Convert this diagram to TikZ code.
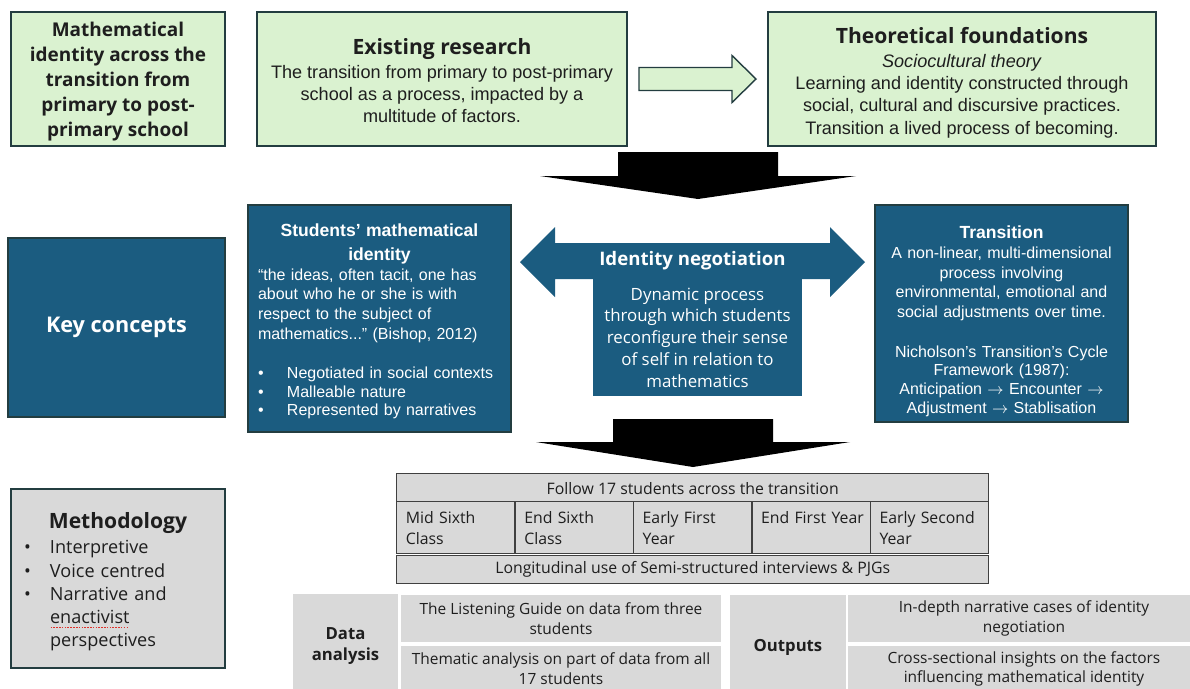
\documentclass[tikz,border=0pt]{standalone}
\usepackage{fontspec}
\setmainfont{Liberation Sans}
\newfontfamily\apt{Open Sans}
\usetikzlibrary{calc}

\definecolor{leaf}{HTML}{DAF2D0}
\definecolor{edge}{HTML}{233D40}
\definecolor{deep}{HTML}{1B5C80}
\definecolor{ash}{HTML}{D9D9D9}
\definecolor{ink}{HTML}{1E1E1E}
\definecolor{rule}{HTML}{404040}
\definecolor{spell}{HTML}{E0302A}

\newcommand\hd{\apt\bfseries\fontsize{12}{14.2}\selectfont}
\newcommand\itm[2][0.58cm]{\makebox[#1][l]{\textbullet}#2}
% dotted red mark under a word
\newcommand\squig[1]{\setbox0=\hbox{#1}\rlap{\color{spell}\hbox to \wd0{\leaders\hbox to 1.6pt{\hss\rule[-2.6pt]{0.9pt}{0.6pt}\hss}\hfill}}#1}

\begin{document}
\begin{tikzpicture}[
    font=\fontsize{10.3}{12.7}\selectfont,
    grn/.style={draw=edge, line width=0.8pt, fill=leaf, text=ink, align=center, inner sep=0pt},
    blu/.style={draw=edge, line width=0.8pt, fill=deep, text=white, inner sep=0pt},
    gry/.style={draw=edge, line width=0.8pt, fill=ash, text=ink, inner sep=0pt},
    cell/.style={draw=rule, line width=0.8pt, fill=ash, text=ink, inner sep=0pt,
                 font=\apt\fontsize{9}{11.9}\selectfont},
    pad/.style={fill=ash, text=ink, align=center, inner sep=0pt,
                font=\apt\fontsize{8.8}{11.3}\selectfont},
    down/.style={fill=black},
    hollow/.style={draw=edge, line width=0.8pt, fill=leaf, line join=miter}
  ]
  \useasboundingbox (0,0) rectangle (23.8,-13.76);
  \fill[white] (0,0) rectangle (23.8,-13.76);

  % Top row: topic, research and theory
  \node[grn, minimum width=4.28cm, minimum height=2.68cm, font=\apt\bfseries\fontsize{10.8}{14.2}\selectfont] (topic) at (2.36,-1.58) {
    \rule{0pt}{11pt}Mathematical\\ identity across the\\ transition from\\ primary to post-\\ primary school
  };
  \node[grn, minimum width=7.40cm, minimum height=2.68cm] (research) at (8.84,-1.58) {
    {\hd\rule{0pt}{11pt}Existing research}\\[1pt]
    The transition from primary to post-primary\\
    school as a process, impacted by a\\
    multitude of factors.
  };
  \node[grn, minimum width=7.76cm, minimum height=2.68cm] (theory) at (19.24,-1.58) {
    {\hd\rule{0pt}{13.5pt}Theoretical foundations}\\[0.5pt]
    \textit{Sociocultural theory}\\
    Learning and identity constructed through\\
    social, cultural and discursive practices.\\
    Transition a lived process of becoming.
  };

  % Block arrow between research and theory
  \coordinate (hol) at ($(research.east)!0.5!(theory.west)$);
  \draw[hollow] ([shift={(-1.17,0.23)}]hol) -- ++(1.86,0) -- ++(0,0.24) -- ++(0.48,-0.47)
    -- ++(-0.48,-0.47) -- ++(0,0.24) -- ++(-1.86,0) -- cycle;

  % Down arrow into the concepts row
  \fill[down] (12.36,-3.04) -- (15.56,-3.04) -- (15.56,-3.52) -- (17.12,-3.52)
    -- (13.96,-3.98) -- (10.80,-3.52) -- (12.36,-3.52) -- cycle;

  % Key concepts row
  \node[blu, minimum width=4.34cm, minimum height=3.58cm, font=\apt\bfseries\fontsize{12.3}{14}\selectfont] (keys) at (2.33,-6.55) {Key concepts};

  \node[blu, text width=4.86cm, align=left, inner xsep=0.2cm, minimum width=5.26cm, minimum height=4.54cm,
        font=\fontsize{9.1}{11.3}\selectfont] (ident) at (7.59,-6.37) {
    {\centering\bfseries\fontsize{10}{13.4}\selectfont\rule{0pt}{10.5pt}Students’ mathematical\\identity\par}
    “the ideas, often tacit, one has\\
    about who he or she is with\\
    respect to the subject of\\
    mathematics...”\ (Bishop, 2012)\par\vspace{12pt}
    {\fontsize{9.1}{10.4}\selectfont
    \itm{Negotiated in social contexts}\\
    \itm{Malleable nature}\\
    \itm{Represented by narratives}\par}
  };

  \node[fill=deep, text=white, align=center, inner sep=0pt, minimum width=4.18cm, minimum height=2.34cm,
        font=\apt\fontsize{9.6}{12.4}\selectfont] (negbody) at (13.95,-6.75) {
    Dynamic process\\ through which students\\ reconfigure their sense\\ of self in relation to\\ mathematics
  };
  \fill[deep] (10.40,-5.24) -- (11.10,-4.54) -- (11.10,-4.86) -- (16.60,-4.86) -- (16.60,-4.54)
    -- (17.30,-5.24) -- (16.60,-5.94) -- (16.60,-5.58) -- (11.10,-5.58) -- (11.10,-5.94) -- cycle;
  \node[text=white, font=\apt\bfseries\fontsize{10.6}{12}\selectfont] (neg) at (13.85,-5.22) {Identity negotiation};

  \node[blu, text width=4.70cm, align=center, inner xsep=0.18cm, minimum width=5.06cm, minimum height=4.34cm,
        font=\fontsize{9.1}{11.2}\selectfont] (trans) at (20.03,-6.27) {
    {\bfseries\fontsize{10}{12}\selectfont\rule{0pt}{16pt}Transition\par}
    A non-linear, multi-dimensional\\ process involving\\ environmental, emotional and\\
    social adjustments over time.\par\vspace{12pt}
    {\fontsize{9.1}{10.6}\selectfont
    Nicholson’s Transition’s Cycle\\ Framework (1987):\\
    Anticipation $\rightarrow$ Encounter $\rightarrow$\\ Adjustment $\rightarrow$ Stablisation\par}
  };

  % Down arrow into the study design
  \fill[down] (12.26,-8.38) -- (15.46,-8.38) -- (15.46,-8.84) -- (17.00,-8.84)
    -- (13.86,-9.34) -- (10.72,-8.84) -- (12.26,-8.84) -- cycle;

  % Methodology
  \node[gry, text width=3.76cm, align=left, inner xsep=0.26cm, minimum width=4.28cm, minimum height=3.58cm,
        font=\apt\fontsize{10.3}{13.2}\selectfont] (method) at (2.36,-11.57) {
    {\centering\bfseries\fontsize{12}{15}\selectfont\rule{0pt}{12.5pt}Methodology\par}\vspace{1.5pt}
    \itm[0.52cm]{Interpretive}\\
    \itm[0.52cm]{Voice centred}\\
    \itm[0.52cm]{Narrative and}\\
    \hspace*{0.52cm}\squig{enactivist}\\
    \hspace*{0.52cm}perspectives
  };

  % Data collection table
  \node[cell, anchor=north west, minimum width=11.84cm, minimum height=0.60cm] (follow) at (7.92,-9.46)
    {Follow 17 students across the transition};
  \foreach \lbl [count=\i from 0] in {{Mid Sixth\\Class}, {End Sixth\\Class}, {Early First\\Year},
                                     {\mbox{End First Year}\\~}, {Early Second\\Year}}
    \node[cell, anchor=north west, minimum width=2.368cm, minimum height=1.04cm, text width=2.0cm,
          inner xsep=0.18cm, align=left] (yr\i) at ({7.92+2.368*\i},-10.02) {\lbl};
  \node[cell, anchor=north west, minimum width=11.84cm, minimum height=0.56cm] (interviews) at (7.92,-11.10)
    {Longitudinal use of Semi-structured interviews \& PJGs};

  % Data analysis and outputs
  \node[pad, minimum width=2.10cm, minimum height=2.10cm, font=\apt\bfseries\fontsize{9.5}{11.9}\selectfont]
    (analysis) at (6.91,-12.92) {Data\\ analysis};
  \node[pad, minimum width=6.40cm, minimum height=0.94cm] (lg) at (11.22,-12.37)
    {The Listening Guide on data from three\\ students};
  \node[pad, minimum width=6.40cm, minimum height=0.92cm] (them) at (11.22,-13.38)
    {Thematic analysis on part of data from all\\ 17 students};

  \node[pad, minimum width=2.32cm, minimum height=2.10cm, font=\apt\bfseries\fontsize{9.5}{11.9}\selectfont]
    (outputs) at (15.76,-12.95) {Outputs};
  \node[pad, minimum width=7.04cm, minimum height=0.94cm] (cases) at (20.48,-12.37)
    {In-depth narrative cases of identity\\ negotiation};
  \node[pad, minimum width=7.04cm, minimum height=0.92cm] (cross) at (20.48,-13.38)
    {Cross-sectional insights on the factors\\ influencing mathematical identity};

\end{tikzpicture}
\end{document}
